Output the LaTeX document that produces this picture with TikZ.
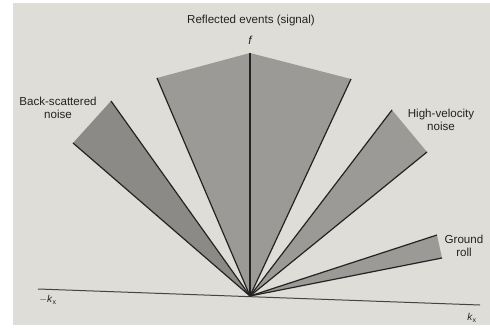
\documentclass[tikz,border=0pt]{standalone}
\usepackage{fontspec}
\setmainfont{Liberation Sans}
\definecolor{paper}{RGB}{222,221,215}
\definecolor{wedge}{RGB}{156,154,150}
\definecolor{wedgedark}{RGB}{140,138,134}
\definecolor{ink}{RGB}{35,35,35}
\tikzset{
  edge/.style={draw=ink, line width=1.2pt},
  axis/.style={draw=ink!85, line width=1pt},
  lbl/.style={text=ink, font=\fontsize{11.6}{13}\selectfont, align=center, inner sep=0pt},
}
\begin{document}
\begin{tikzpicture}[x=1pt,y=-1pt]
\useasboundingbox (0,0) rectangle (490,331);
\fill[white] (0,0) rectangle (490,331);
\fill[paper] (13,3) rectangle (490,325);
% points
\coordinate (O) at (250,296);
\coordinate (axL) at (38,289);
\coordinate (axR) at (480,305);
\coordinate (sigL) at (157,78);
\coordinate (sigT) at (250,53);
\coordinate (sigR) at (351,79);
\coordinate (bsA) at (73,143);
\coordinate (bsB) at (111,101);
\coordinate (hvA) at (392,110);
\coordinate (hvB) at (427,152);
\coordinate (grA) at (437,235);
\coordinate (grB) at (442,258);
% wedges
\fill[wedge] (O) -- (sigL) -- (sigT) -- (sigR) -- cycle;
\fill[wedgedark] (O) -- (bsA) -- (bsB) -- cycle;
\fill[wedge] (O) -- (hvA) -- (hvB) -- cycle;
\fill[wedge] (O) -- (grA) -- (grB) -- cycle;
% axes
\draw[axis] (axL) -- (axR);
\draw[edge] (O) -- (sigT);
% wedge edges
\draw[edge] (O) -- (sigL);
\draw[edge] (O) -- (sigR);
\draw[edge] (O) -- (bsA);
\draw[edge] (O) -- (bsB);
\draw[edge] (O) -- (hvA);
\draw[edge] (O) -- (hvB);
\draw[edge] (O) -- (grA);
\draw[edge] (O) -- (grB);
% labels
\node[lbl] (tsig) at (251,21) {Reflected events (signal)};
\node[lbl] (tf) at (250,40) {\itshape f};
\node[lbl] (tbs) at (58,108) {Back-scattered\\noise};
\node[lbl] (thv) at (441,120) {High-velocity\\noise};
\node[lbl] (tgr) at (464,246) {Ground\\roll};
\node[lbl, font=\fontsize{10}{11}\selectfont] (tkl) at (48,300) {$-$\textit{k}\textsubscript{x}};
\node[lbl, font=\fontsize{10}{11}\selectfont] (tkr) at (472,318) {\textit{k}\textsubscript{x}};
\end{tikzpicture}
\end{document}
